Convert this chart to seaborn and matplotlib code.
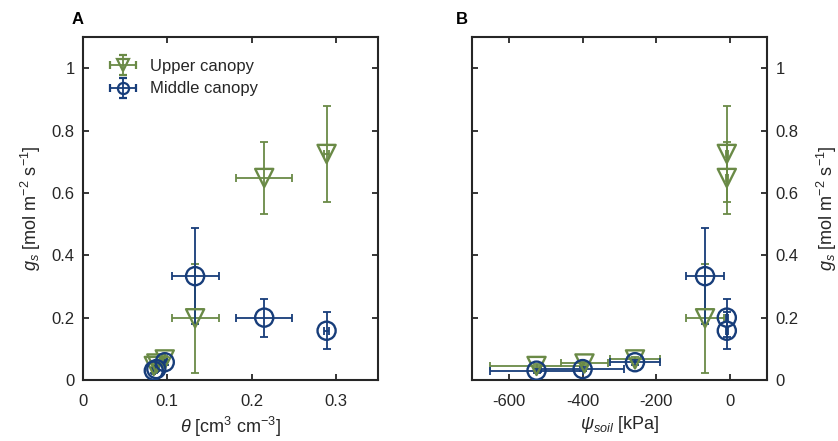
import matplotlib
matplotlib.use("Agg")
import matplotlib.pyplot as plt
from matplotlib.legend_handler import HandlerErrorbar
from matplotlib.container import ErrorbarContainer
import numpy as np
import pandas as pd
import seaborn as sns

# Soil moisture, soil water potential and stomatal conductance per sampling date
theta = [0.084, 0.087, 0.097, 0.133, 0.215, 0.289]
theta_err = [0.002, 0.002, 0.003, 0.028, 0.033, 0.003]
psi_upper = [-525, -395, -258, -68, -9, -9]
psi_upper_err = [125, 65, 69, 52, 3, 3]
psi_middle = [-525, -400, -258, -68, -9, -9]
psi_middle_err = [125, 112, 69, 52, 3, 3]
gs_upper = [0.045, 0.053, 0.066, 0.198, 0.648, 0.725]
gs_upper_err = [0.006, 0.006, 0.008, 0.175, 0.115, 0.155]
gs_middle = [0.030, 0.035, 0.057, 0.333, 0.200, 0.158]
gs_middle_err = [0.006, 0.006, 0.008, 0.155, 0.061, 0.060]

series_names = ["Upper canopy", "Middle canopy"]
theta_ticks = [0, 0.1, 0.2, 0.3]
theta_ticklabels = ["0", "0.1", "0.2", "0.3"]
psi_ticks = [-600, -400, -200, 0]
psi_ticklabels = ["-600", "-400", "-200", "0"]
gs_ticks = [0, 0.2, 0.4, 0.6, 0.8, 1.0]
gs_ticklabels = ["0", "0.2", "0.4", "0.6", "0.8", "1"]

GREEN = "#6A8A46"
BLUE = "#173D7A"
INK = "#262626"

sns.set_theme(style="ticks")
plt.rcParams["font.family"] = ["Liberation Sans", "DejaVu Sans"]
plt.rcParams["mathtext.fontset"] = "custom"
plt.rcParams["mathtext.rm"] = "Liberation Sans"
plt.rcParams["mathtext.it"] = "Liberation Sans:italic"
plt.rcParams["mathtext.cal"] = "Liberation Sans"

df = pd.DataFrame({
    "theta": theta * 2,
    "theta_err": theta_err * 2,
    "psi": psi_upper + psi_middle,
    "psi_err": psi_upper_err + psi_middle_err,
    "gs": gs_upper + gs_middle,
    "gs_err": gs_upper_err + gs_middle_err,
    "canopy": [series_names[0]] * len(theta) + [series_names[1]] * len(theta),
})

palette = {series_names[0]: GREEN, series_names[1]: BLUE}
markers = {series_names[0]: "v", series_names[1]: "o"}

fig = plt.figure(figsize=(8.38, 4.41), dpi=100)
axA = fig.add_axes([83 / 838, 61 / 441, 295 / 838, 343 / 441])
axB = fig.add_axes([472 / 838, 61 / 441, 295 / 838, 343 / 441])

bar_kw = dict(fmt="none", elinewidth=1.3, capsize=3.2, capthick=1.3)


def draw(ax, xcol, xerrcol):
    for name in series_names:
        sub = df[df["canopy"] == name]
        ax.errorbar(sub[xcol], sub["gs"], xerr=sub[xerrcol], yerr=sub["gs_err"],
                    ecolor=palette[name], **bar_kw)
        sns.scatterplot(data=sub, x=xcol, y="gs", ax=ax, marker=markers[name],
                        s=170, facecolor="none", edgecolor=palette[name],
                        linewidth=1.7, legend=False, zorder=3)


draw(axA, "theta", "theta_err")
draw(axB, "psi", "psi_err")

for ax in (axA, axB):
    ax.set_ylim(0, 1.1)
    ax.set_yticks(gs_ticks)
    ax.set_yticklabels(gs_ticklabels)
    for s in ax.spines.values():
        s.set_visible(True)
        s.set_linewidth(1.5)
        s.set_color(INK)
    ax.tick_params(direction="in", length=4, width=1.3, colors=INK,
                   labelsize=12, top=True, right=True, pad=6)
    ax.tick_params(axis="x", pad=10)

axA.set_xlim(0, 0.35)
axA.set_xticks(theta_ticks)
axA.set_xticklabels(theta_ticklabels)
axA.set_xlabel(r"$\theta$ [cm$^3$ cm$^{-3}$]", fontsize=13, color=INK, labelpad=4)
axA.set_ylabel(r"$g_s$ [mol m$^{-2}$ s$^{-1}$]", fontsize=13, color=INK, labelpad=6)

axB.set_xlim(-700, 100)
axB.set_xticks(psi_ticks)
axB.set_xticklabels(psi_ticklabels)
axB.yaxis.set_label_position("right")
axB.tick_params(labelleft=False, labelright=True)
axB.set_xlabel(r"$\psi_{soil}$ [kPa]", fontsize=13, color=INK, labelpad=4)
axB.set_ylabel(r"$g_s$ [mol m$^{-2}$ s$^{-1}$]", fontsize=13, color=INK, labelpad=12)

fig.text(72 / 838, 1 - 20 / 441, "A", fontsize=12, fontweight="bold", va="center", color="black")
fig.text(456 / 838, 1 - 20 / 441, "B", fontsize=12, fontweight="bold", va="center", color="black")

# Legend entries combine an errorbar glyph with the open marker
handles = []
for name in series_names:
    h = axA.errorbar([np.nan], [np.nan], xerr=[1], yerr=[1], fmt=markers[name],
                     color=palette[name], mfc="none", mec=palette[name], ms=8,
                     mew=1.6, elinewidth=1.3, capsize=3.2, capthick=1.3)
    handles.append(h)
axA.legend(handles, series_names, loc="upper left", bbox_to_anchor=(0.04, 0.97),
           frameon=False, fontsize=12, handlelength=2.0, handletextpad=0.6,
           borderaxespad=0.3, labelspacing=0.45, numpoints=1,
           handler_map={ErrorbarContainer: HandlerErrorbar(xerr_size=0.8, yerr_size=0.6)})

fig.savefig("out.png", dpi=100)
